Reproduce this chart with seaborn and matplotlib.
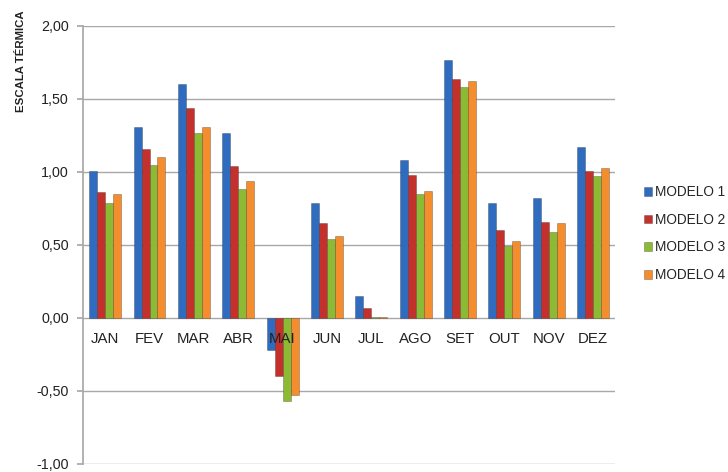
import matplotlib
matplotlib.use("Agg")
import matplotlib.pyplot as plt
import seaborn as sns
import pandas as pd

meses = ["JAN", "FEV", "MAR", "ABR", "MAI", "JUN", "JUL", "AGO", "SET", "OUT", "NOV", "DEZ"]
modelo_1 = [1.01, 1.31, 1.60, 1.27, -0.22, 0.79, 0.15, 1.08, 1.77, 0.79, 0.82, 1.17]
modelo_2 = [0.86, 1.16, 1.44, 1.04, -0.40, 0.65, 0.07, 0.98, 1.64, 0.60, 0.66, 1.01]
modelo_3 = [0.79, 1.05, 1.27, 0.88, -0.57, 0.54, 0.01, 0.85, 1.58, 0.49, 0.59, 0.97]
modelo_4 = [0.85, 1.10, 1.31, 0.94, -0.53, 0.56, 0.01, 0.87, 1.62, 0.53, 0.65, 1.03]
modelos = ["MODELO 1", "MODELO 2", "MODELO 3", "MODELO 4"]
cores = ["#2F6CC0", "#C4302C", "#8DBA35", "#F38D2E"]
y_ticks = [-1.0, -0.5, 0.0, 0.5, 1.0, 1.5, 2.0]

rows = []
for nome, serie in zip(modelos, [modelo_1, modelo_2, modelo_3, modelo_4]):
    for mes, v in zip(meses, serie):
        rows.append({"mes": mes, "modelo": nome, "valor": v})
df = pd.DataFrame(rows)

sns.set_theme(style="white")
plt.rcParams["font.family"] = ["Liberation Sans", "DejaVu Sans"]

fig = plt.figure(figsize=(7.28, 4.72), dpi=100)
ax = fig.add_axes([0.114, 0.017, 0.731, 0.928])

sns.barplot(data=df, x="mes", y="valor", hue="modelo", order=meses,
            hue_order=modelos, palette=cores, width=0.72, ax=ax,
            errorbar=None, saturation=1, legend=True, zorder=3)
for p in ax.patches:
    p.set_edgecolor((0, 0, 0, 0.28))
    p.set_linewidth(0.6)

ax.set_ylim(-1.0, 2.0)
ax.set_xlim(-0.5, len(meses) - 0.5)
ax.set_yticks(y_ticks)
ax.set_yticklabels([f"{t:.2f}".replace(".", ",") for t in y_ticks], fontsize=10.3, color="#222222")
ax.yaxis.grid(True, color="#A8A8A8", linewidth=1.0)
ax.set_axisbelow(True)

# month labels sit on the zero line, drawn above the bars
ax.spines["bottom"].set_position(("data", 0))
ax.spines["bottom"].set_visible(False)
ax.spines["top"].set_visible(False)
ax.spines["right"].set_visible(False)
ax.spines["left"].set_color("#A8A8A8")
ax.tick_params(axis="x", length=0, pad=10, labelsize=10.8, labelcolor="#222222")
ax.tick_params(axis="y", length=4, color="#A8A8A8", pad=6, left=True)
ax.xaxis.set_zorder(5)
ax.set_xlabel("")
ax.set_ylabel("")

fig.text(0.029, 0.871, "ESCALA TÉRMICA", rotation=90, ha="center", va="center",
         fontsize=8.2, fontweight="bold", color="#222222")

handles, labels = ax.get_legend_handles_labels()
ax.legend(handles, labels, loc="center left", bbox_to_anchor=(1.031, 0.526),
          frameon=False, fontsize=9.8, handlelength=0.6, handleheight=0.6,
          handletextpad=0.25, labelspacing=1.0)

fig.savefig("out.png", dpi=100, facecolor="white")
